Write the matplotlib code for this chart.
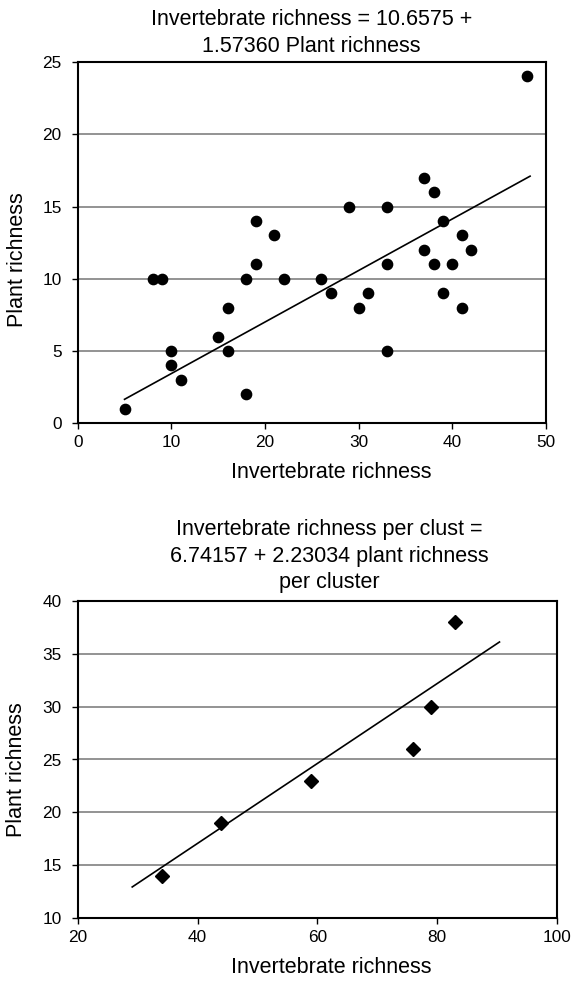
import matplotlib
matplotlib.use("Agg")
import matplotlib.pyplot as plt

plt.rcParams["font.family"] = ["Liberation Sans", "DejaVu Sans"]

# --- top panel: all sites ---
inv_rich = [5, 8, 9, 10, 10, 11, 15, 16, 16, 18, 18, 19, 19, 21, 22, 26, 27,
            29, 30, 31, 33, 33, 33, 37, 37, 38, 38, 39, 39, 40, 41, 41, 42, 48]
plant_rich = [1, 10, 10, 5, 4, 3, 6, 8, 5, 2, 10, 14, 11, 13, 10, 10, 9,
              15, 8, 9, 15, 11, 5, 17, 12, 16, 11, 14, 9, 11, 13, 8, 12, 24]
fit1_x = [5.0, 48.3]
fit1_y = [1.66, 17.1]

# --- bottom panel: per cluster ---
inv_clust = [34, 44, 59, 76, 79, 83]
plant_clust = [14, 19, 23, 26, 30, 38]
fit2_x = [29.1, 90.4]
fit2_y = [12.96, 36.1]

TITLE1 = ["Invertebrate richness = 10.6575 +",
          "1.57360 Plant richness"]
TITLE2 = ["Invertebrate richness per clust =",
          "6.74157 + 2.23034 plant richness",
          "per cluster"]

W, H = 575, 982
FS = 15.5
fig = plt.figure(figsize=(W / 100, H / 100), dpi=100)


def px_axes(left, top, right, bottom):
    return fig.add_axes([left / W, 1 - bottom / H, (right - left) / W, (bottom - top) / H])


def style(ax, box, xlim, ylim, xt, yt, xlab_y, ylab_y):
    left, top, right, bottom = box
    ax.set_xlim(*xlim)
    ax.set_ylim(*ylim)
    ax.set_xticks(xt)
    ax.set_yticks(yt)
    ax.yaxis.grid(True, color="#808080", linewidth=1.2, zorder=0)
    ax.set_axisbelow(True)
    for s in ax.spines.values():
        s.set_linewidth(1.5)
        s.set_color("black")
    ax.tick_params(direction="out", length=4, width=1, labelsize=12.4)
    ax.tick_params(axis="x", pad=4.5)
    ax.tick_params(axis="y", pad=7.5)
    ax.set_xlabel("Invertebrate richness", fontsize=FS, va="baseline")
    ax.set_ylabel("Plant richness", fontsize=FS, va="center", ha="center")
    w, h = right - left, bottom - top
    ax.xaxis.set_label_coords((331 - left) / w, (bottom - xlab_y) / h)
    ax.yaxis.set_label_coords((17 - left) / w, (bottom - ylab_y) / h)


box1 = (77.7, 62, 546, 423.3)
ax1 = px_axes(*box1)
ax1.plot(fit1_x, fit1_y, color="black", linewidth=1.2, zorder=2)
ax1.plot(inv_rich, plant_rich, "o", color="black", markersize=7.4, zorder=3, clip_on=False)
style(ax1, box1, (0, 50), (0, 25), range(0, 51, 10), range(0, 26, 5), 478, 260)
for i, line in enumerate(TITLE1):
    fig.text(311.5 / W, 1 - (25 + 26.7 * i) / H, line, ha="center", va="baseline", fontsize=FS)

box2 = (77.7, 600.7, 557, 918.3)
ax2 = px_axes(*box2)
ax2.plot(fit2_x, fit2_y, color="black", linewidth=1.2, zorder=2)
ax2.plot(inv_clust, plant_clust, "D", color="black", markersize=7.5, zorder=3)
style(ax2, box2, (20, 100), (10, 40), range(20, 101, 20), range(10, 41, 5), 973, 770)
for i, line in enumerate(TITLE2):
    fig.text(329 / W, 1 - (535 + 26.7 * i) / H, line, ha="center", va="baseline", fontsize=FS)

fig.savefig("out.png", dpi=100, facecolor="white")
